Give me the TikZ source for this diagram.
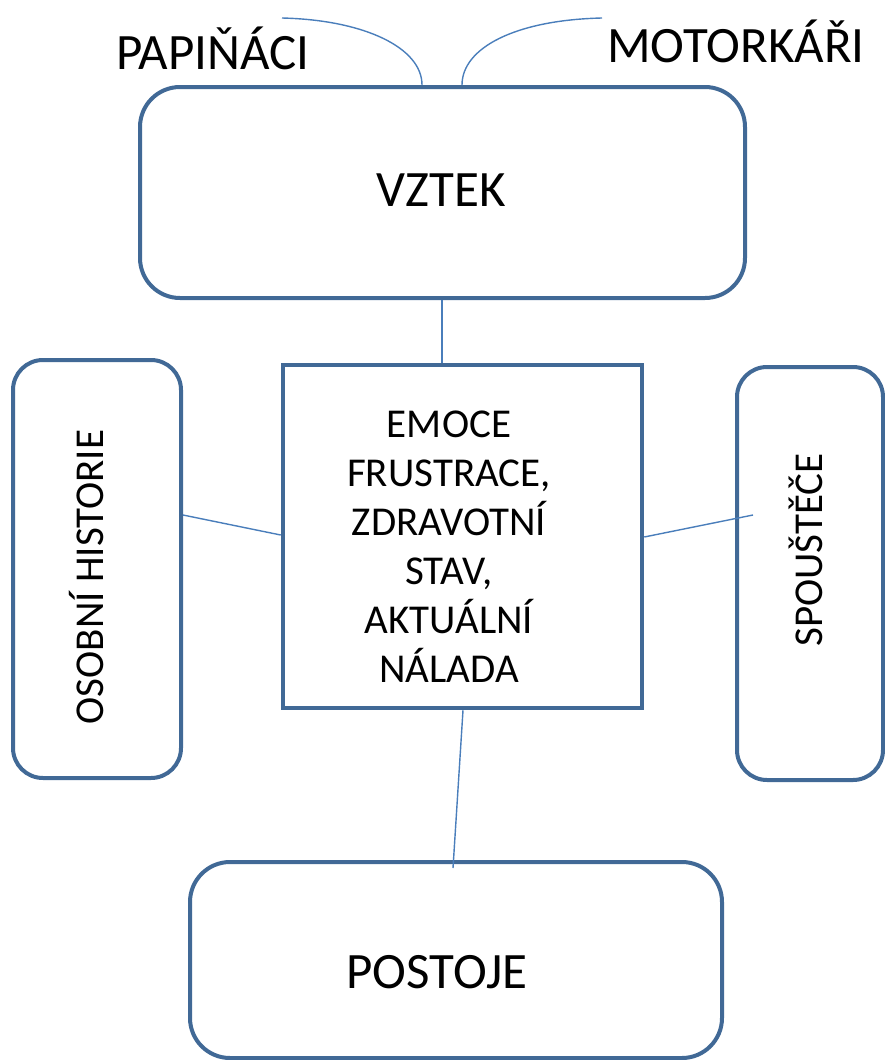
\documentclass[tikz,border=0pt]{standalone}
\usepackage{fontspec}
\setmainfont{Carlito}
\usetikzlibrary{calc}
\definecolor{boxblue}{RGB}{65,105,150}
\definecolor{linkblue}{RGB}{74,126,187}
\begin{document}
\begin{tikzpicture}[x=1pt,y=-1pt,
  rbox/.style={draw=boxblue,line width=4pt,rounded corners=40pt,fill=white,inner sep=0pt},
  sbox/.style={draw=boxblue,line width=4.5pt,fill=white,inner sep=0pt},
  link/.style={draw=linkblue,line width=1.4pt},
  big/.style={font=\fontsize{51}{60}\selectfont},
  mid/.style={font=\fontsize{41}{49}\selectfont}]
\useasboundingbox (0,0) rectangle (885,1060);
\node[rbox,minimum width=605pt,minimum height=211pt] (vztek) at (442.5,192.5) {};
\node[big] (vztektext) at (441.5,190) {VZTEK};
\node[sbox,minimum width=359pt,minimum height=343pt] (emoce) at (462.5,536.5) {};
\node[mid,align=center] (emocetext) at (449,547) {EMOCE\\FRUSTRACE,\\ZDRAVOTNÍ\\STAV,\\AKTUÁLNÍ\\NÁLADA};
\node[rbox,minimum width=168pt,minimum height=418pt,rounded corners=30pt] (osobni) at (97,569) {};
\node[mid,rotate=90] (osobnitext) at (87,577) {OSOBNÍ HISTORIE};
\node[rbox,minimum width=146pt,minimum height=413pt,rounded corners=30pt] (spoust) at (810,573.5) {};
\node[mid,rotate=90] (spousttext) at (806,550) {SPOUŠTĚČE};
\node[rbox,minimum width=532pt,minimum height=196pt] (postoje) at (456,960) {};
\node[big] (postojetext) at (437,972) {POSTOJE};
\node[big] (papinaci) at (213,48) {PAPIŇÁCI};
\node[big] (motorkari) at (736,41) {MOTORKÁŘI};
\coordinate (papstart) at (282,18);
\coordinate (motstart) at (602,18);
\coordinate (spend) at (753,515);
\coordinate (postend) at (453,868);
\draw[link] (vztek.south -| 442,0) -- (emoce.north -| 442,0);
\draw[link] (osobni.east |- 0,515) -- (emoce.west |- 0,535);
\draw[link] (emoce.east |- 0,537) -- (spend);
\draw[link] (emoce.south -| 463,0) -- (postend);
\draw[link] (papstart) .. controls (365,20) and (422,48) .. (vztek.north -| 422,0);
\draw[link] (motstart) .. controls (515,20) and (462,48) .. (vztek.north -| 462,0);
\end{tikzpicture}
\end{document}
